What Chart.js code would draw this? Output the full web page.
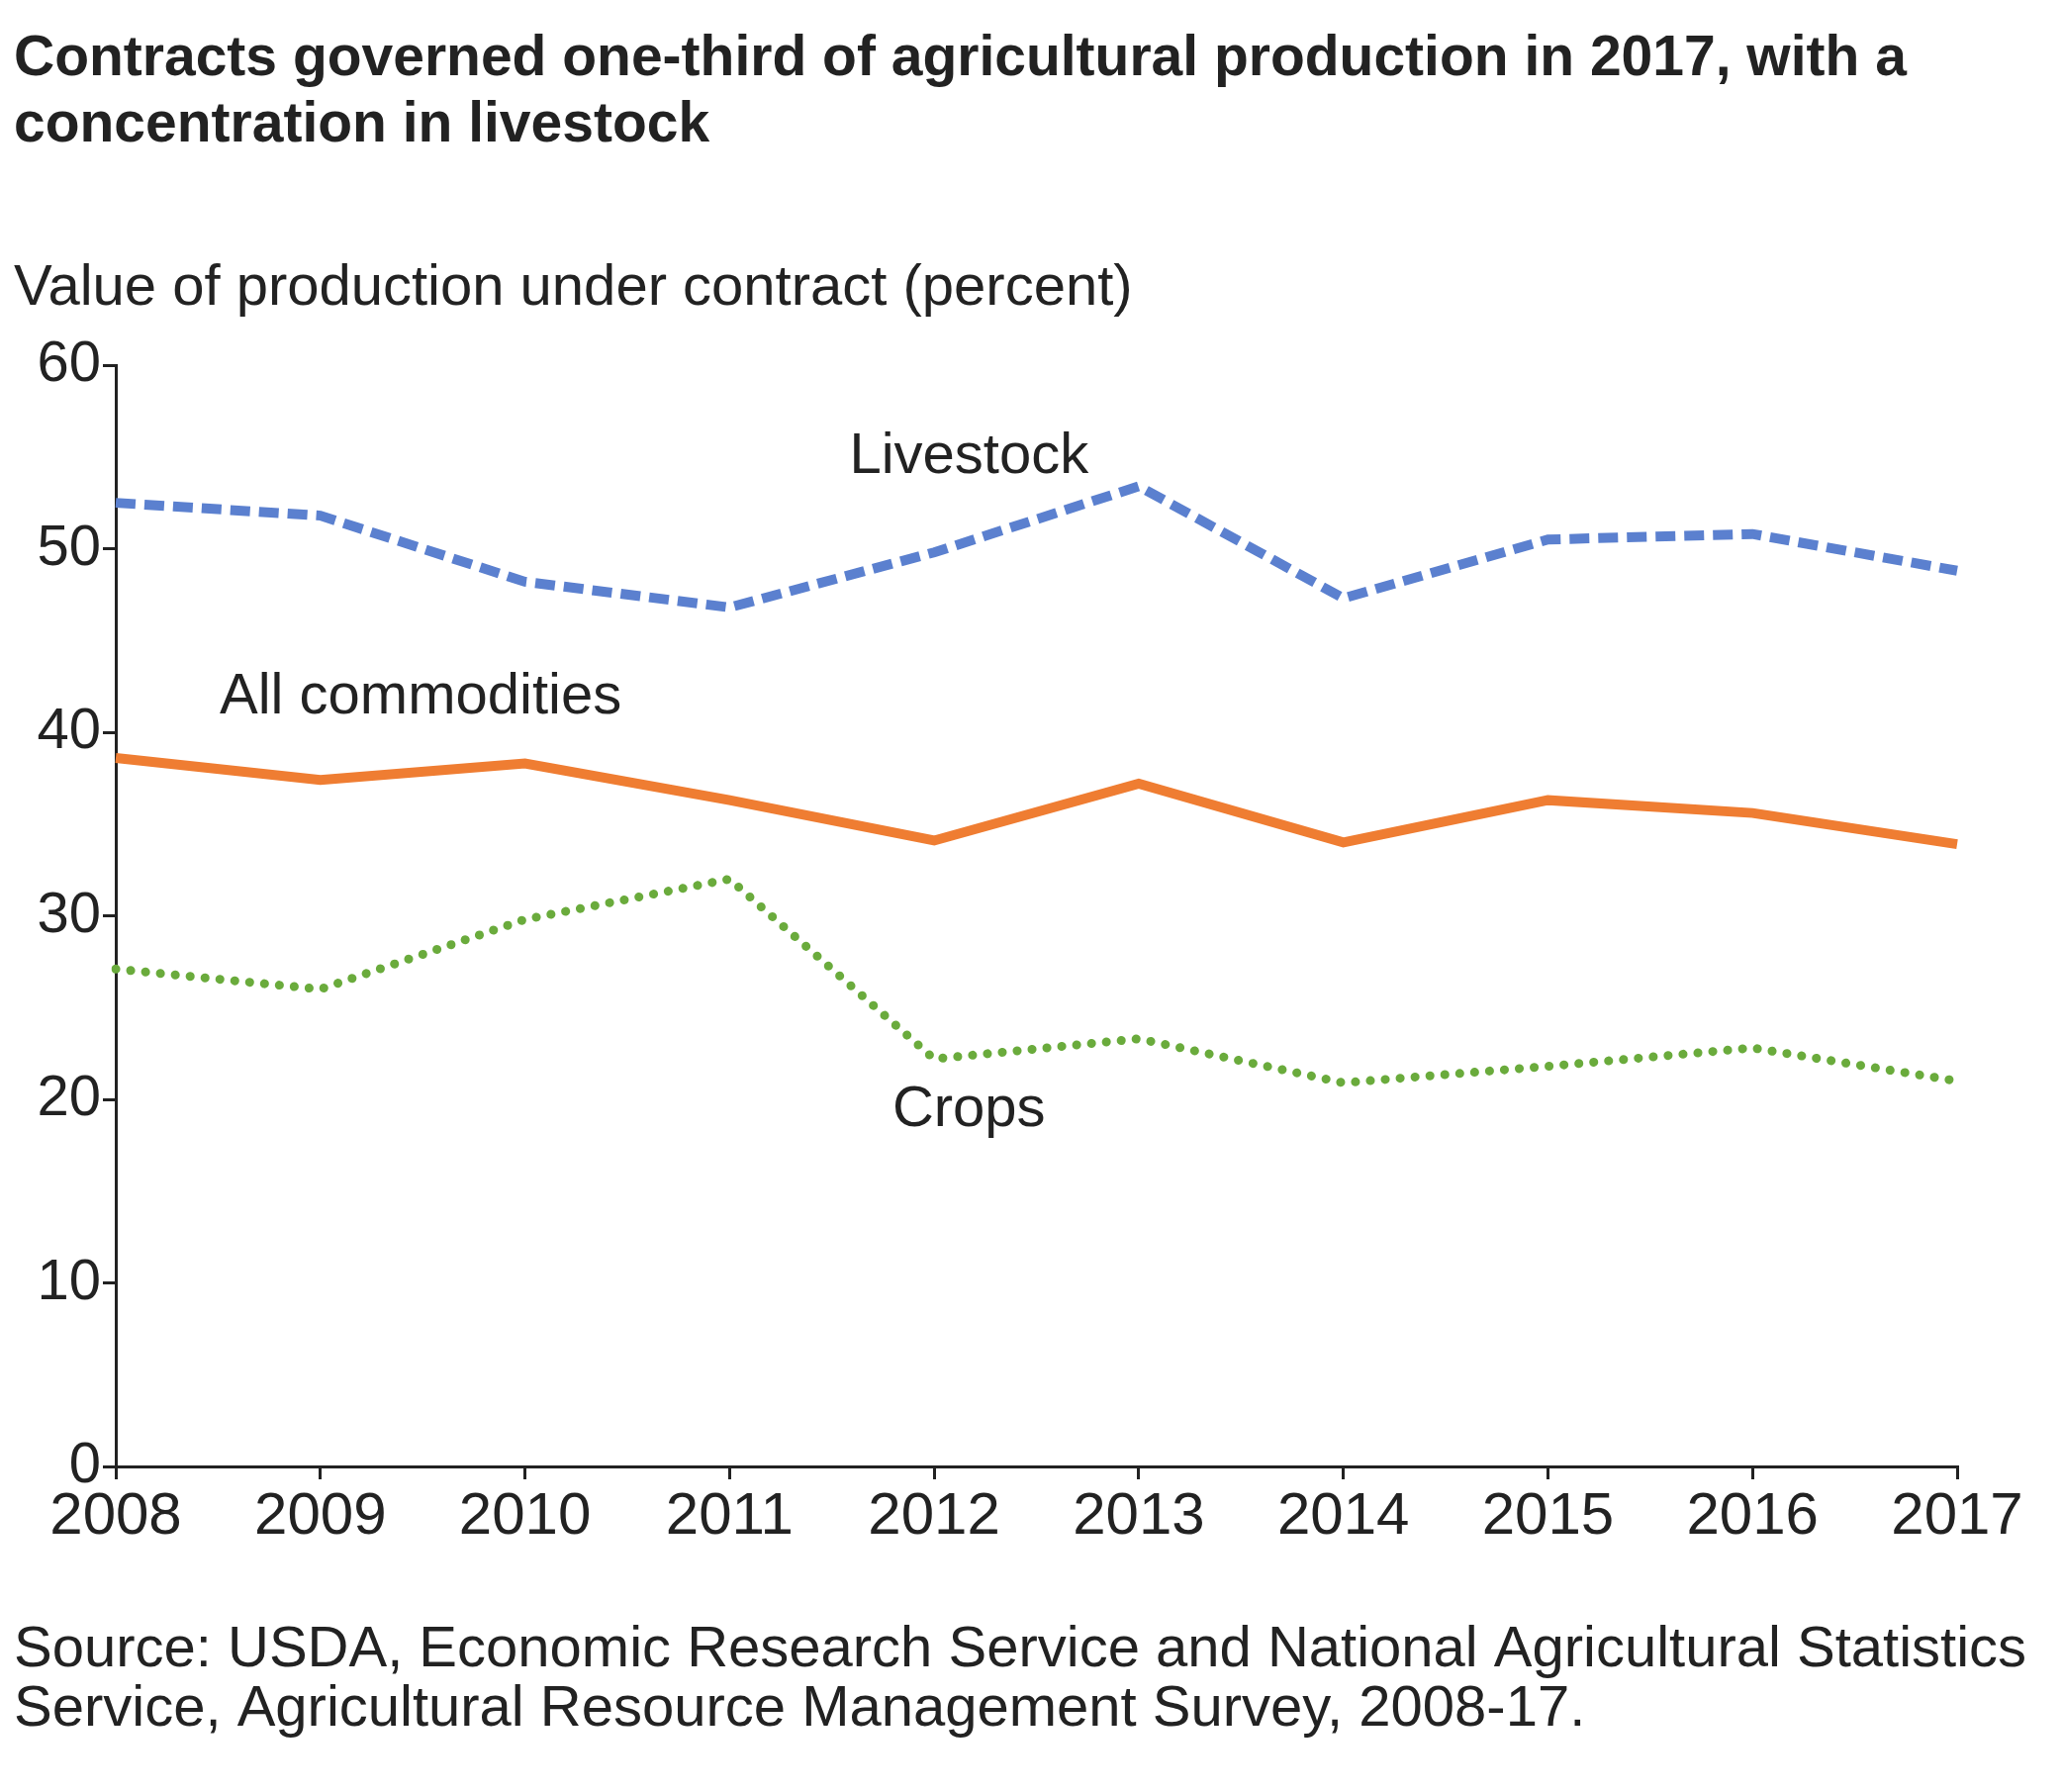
<!DOCTYPE html>
<html><head><meta charset="utf-8">
<script src="https://cdn.jsdelivr.net/npm/chart.js@4/dist/chart.umd.min.js"></script>
<style>html,body{margin:0;padding:0;background:#fff}#w{width:2084px;height:1811px;position:relative}</style>
</head><body><div id="w"><canvas id="c"></canvas></div>
<script>
const years = ['2008','2009','2010','2011','2012','2013','2014','2015','2016','2017'];
const livestock = [52.5,51.8,48.2,46.8,49.8,53.4,47.3,50.5,50.8,48.8];
const allCommodities = [38.6,37.4,38.3,36.3,34.1,37.2,34.0,36.3,35.6,33.9];
const crops = [27.1,26.0,29.8,32.0,22.2,23.3,20.9,21.8,22.8,21.0];
const yTicks = [0,10,20,30,40,50,60];
const seriesLabels = [
  {text:'Livestock', x:4.17, y:55.0},
  {text:'All commodities', x:1.49, y:41.9},
  {text:'Crops', x:4.17, y:19.4}
];
const FONT = '"Liberation Sans", Arial, sans-serif';
const textPlugin = {
  id:'texts',
  afterDraw(chart){
    const ctx = chart.ctx; ctx.save();
    ctx.fillStyle = '#222'; ctx.textBaseline='middle'; ctx.textAlign='left';
    ctx.font = 'bold 57px '+FONT;
    ctx.fillText('Contracts governed one-third of agricultural production in 2017, with a',14,60);
    ctx.fillText('concentration in livestock',14,127);
    ctx.font = '58px '+FONT;
    ctx.fillText('Value of production under contract (percent)',14,292);
    ctx.font = '58px '+FONT;
    ctx.fillText('Source: USDA, Economic Research Service and National Agricultural Statistics',14,1668);
    ctx.fillText('Service, Agricultural Resource Management Survey, 2008-17.',14,1728);
    ctx.font = '58px '+FONT; ctx.textAlign='center';
    const xs = chart.scales.x, ys = chart.scales.y;
    for (const l of seriesLabels) ctx.fillText(l.text, xs.getPixelForValue(l.x), ys.getPixelForValue(l.y));
    ctx.restore();
  }
};
new Chart(document.getElementById('c'), {
  type:'line',
  data:{labels:years, datasets:[
    {label:'Livestock', data:livestock, borderColor:'#5b80cf', borderWidth:10, borderDash:[20,9], pointRadius:0, tension:0},
    {label:'All commodities', data:allCommodities, borderColor:'#ef7d32', borderWidth:10, pointRadius:0, tension:0},
    {label:'Crops', data:crops, borderColor:'#6aab3c', borderWidth:9, borderDash:[0.1,15], borderCapStyle:'round', pointRadius:0, tension:0}
  ]},
  options:{
    responsive:true, maintainAspectRatio:false, animation:false,
    layout:{padding:{top:369,right:106,left:0,bottom:0}},
    plugins:{legend:{display:false}, tooltip:{enabled:false}},
    scales:{
      x:{offset:false, grid:{drawOnChartArea:false, drawTicks:true, tickLength:13, color:'#222', lineWidth:3},
         border:{color:'#222', width:3},
         ticks:{color:'#222', font:{size:60, family:FONT}, maxRotation:0, padding:2},
         afterFit(s){s.height=329;}},
      y:{min:0,max:60, grid:{drawOnChartArea:false, drawTicks:true, tickLength:13, color:'#222', lineWidth:3},
         border:{color:'#222', width:3},
         afterBuildTicks(s){s.ticks = yTicks.map(v=>({value:v}));},
         ticks:{color:'#222', font:{size:58, family:FONT}, padding:2},
         afterFit(s){s.width=117;}}
    }
  },
  plugins:[textPlugin]
});
</script></body></html>
